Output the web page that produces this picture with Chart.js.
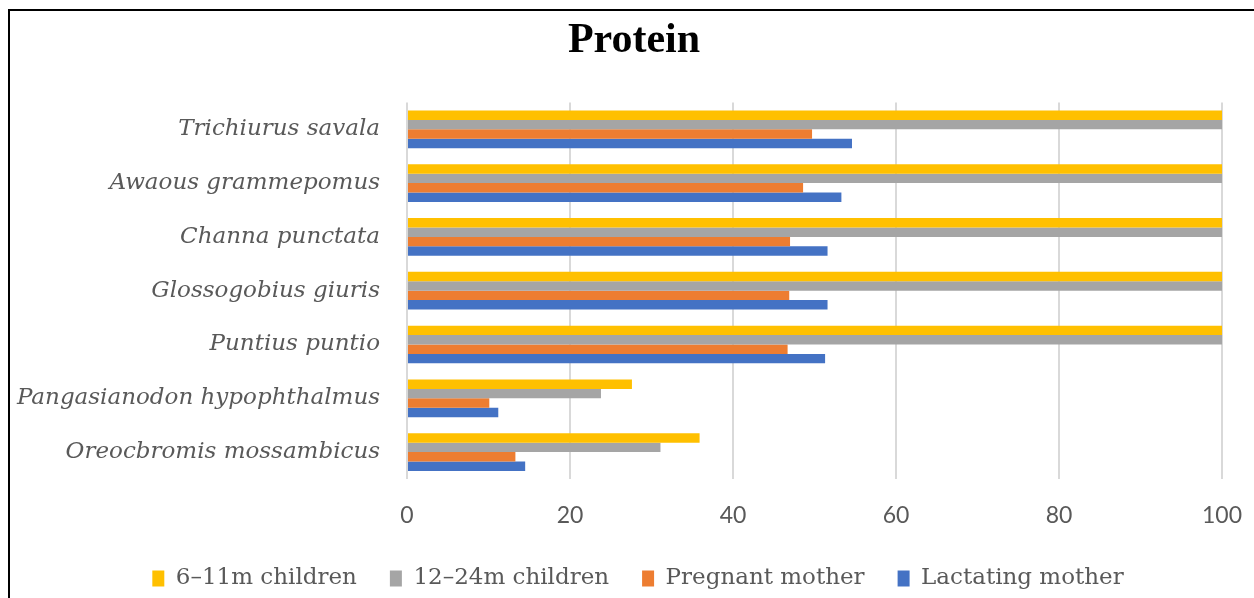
<!DOCTYPE html>
<html>
<head>
<meta charset="utf-8">
<script src="https://cdn.jsdelivr.net/npm/chart.js@4/dist/chart.umd.min.js"></script>
<style>
  html, body { margin: 0; padding: 0; background: #fff; overflow: hidden; }
  #wrap { position: relative; width: 1254px; height: 598px; }
  #frame { position: absolute; left: 8px; top: 9px; width: 1300px; height: 700px; border: 2px solid #000; box-sizing: border-box; pointer-events: none; }
</style>
</head>
<body>
<div id="wrap">
  <canvas id="c" width="1254" height="598"></canvas>
  <div id="frame"></div>
</div>
<script>
const categories = [
  "Trichiurus savala",
  "Awaous grammepomus",
  "Channa punctata",
  "Glossogobius giuris",
  "Puntius puntio",
  "Pangasianodon hypophthalmus",
  "Oreocbromis mossambicus"
];
const seriesNames = ["6–11m children", "12–24m children", "Pregnant mother", "Lactating mother"];
const children6to11 = [100, 100, 100, 100, 100, 27.6, 35.9];
const children12to24 = [100, 100, 100, 100, 100, 23.8, 31.1];
const pregnantMother = [49.7, 48.6, 47.0, 46.9, 46.7, 10.1, 13.3];
const lactatingMother = [54.6, 53.3, 51.6, 51.6, 51.3, 11.2, 14.5];
const xTicks = [0, 20, 40, 60, 80, 100];
const colors = ["#FFC000", "#A5A5A5", "#ED7D31", "#4472C4"];

const seriesValues = [children6to11, children12to24, pregnantMother, lactatingMother];

// shift title and legend so they sit like the reference
const shiftBlocks = {
  id: 'shiftBlocks',
  afterLayout(chart) {
    const t = chart.titleBlock;
    if (t) { t.left += 23; t.right += 23; }
    const l = chart.legend;
    if (l) { l.left += 27; l.right += 27; l.top += 2; l.bottom += 2; }
  }
};

new Chart(document.getElementById('c'), {
  type: 'bar',
  data: {
    labels: categories,
    datasets: seriesNames.map((n, i) => ({
      label: n,
      data: seriesValues[i],
      backgroundColor: colors[i],
      borderWidth: 0,
      categoryPercentage: 0.7,
      barPercentage: 1.0
    }))
  },
  plugins: [shiftBlocks],
  options: {
    indexAxis: 'y',
    responsive: false,
    animation: false,
    devicePixelRatio: 1,
    layout: { padding: { left: 0, right: 32, top: 0, bottom: 0 } },
    plugins: {
      title: {
        display: true,
        text: 'Protein',
        color: '#000',
        font: { family: 'Liberation Serif', size: 42, weight: 'bold', lineHeight: 1.2 },
        padding: { top: 16, bottom: 36 }
      },
      legend: {
        position: 'bottom',
        labels: {
          color: '#595959',
          font: { family: 'DejaVu Serif', size: 23 },
          boxWidth: 12,
          boxHeight: 16,
          padding: 33
        }
      },
      tooltip: { enabled: false }
    },
    scales: {
      x: {
        min: 0,
        max: 100,
        afterBuildTicks: (s) => { s.ticks = xTicks.map(v => ({ value: v })); },
        afterFit: (s) => { s.height = 53; s.paddingLeft = 0; s.paddingRight = 0; },
        grid: { color: '#D9D9D9', lineWidth: 2, drawTicks: false },
        border: { display: false },
        ticks: {
          color: '#595959',
          font: { family: 'Lato', size: 23 },
          padding: 23
        }
      },
      y: {
        afterFit: (s) => { s.width = 407; },
        grid: { display: false, drawTicks: false },
        border: { display: false },
        ticks: {
          color: '#595959',
          font: { family: 'DejaVu Serif', size: 23, style: 'italic' },
          padding: 27
        }
      }
    }
  }
});
</script>
</body>
</html>
